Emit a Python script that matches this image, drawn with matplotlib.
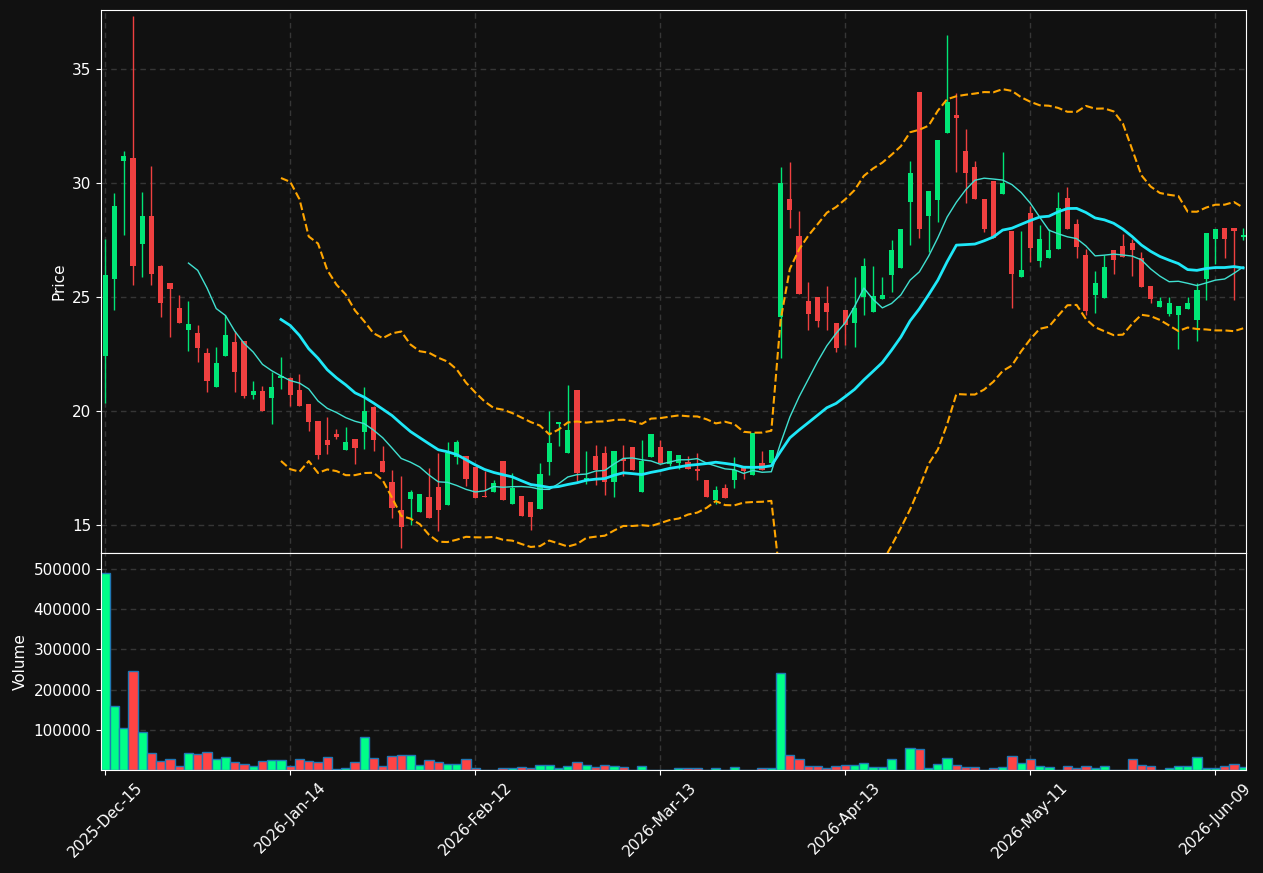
import numpy as np
import pandas as pd
import matplotlib
matplotlib.use("Agg")
import matplotlib.pyplot as plt
from matplotlib.ticker import MultipleLocator, ScalarFormatter

# OHLCV, one bar per trading day
opens = [22.41, 25.82, 31.0, 31.11, 27.36, 28.57, 26.37, 25.64, 24.54, 23.58,
         23.45, 22.56, 21.08, 22.45, 23.05, 23.1, 20.73, 20.9, 20.61, 21.48,
         21.45, 20.95, 20.32, 19.59, 18.75, 19.01, 18.32, 18.8, 19.09, 20.2,
         17.82, 16.91, 15.7, 16.16, 15.58, 16.25, 16.69, 15.91, 18.02, 18.05,
         17.55, 16.31, 16.48, 17.82, 15.96, 16.3, 16.02, 15.73, 17.79, 19.47,
         18.16, 20.95, 17.0, 18.05, 18.17, 16.92, 17.91, 18.43, 16.48, 18.02,
         18.44, 17.71, 17.74, 17.79, 17.47, 17.0, 16.11, 16.65, 17.0, 17.52,
         17.23, 17.74, 17.74, 24.12, 29.31, 27.7, 24.85, 25.0, 24.76, 23.87,
         24.45, 23.86, 25.03, 24.38, 24.91, 25.99, 26.3, 29.19, 34.01, 28.58,
         29.27, 32.23, 33.0, 31.42, 30.72, 29.31, 30.11, 29.53, 27.91, 25.91,
         28.7, 26.6, 26.74, 27.12, 29.36, 28.22, 26.86, 25.11, 24.98, 27.09,
         27.24, 27.39, 26.72, 25.49, 24.6, 24.27, 24.24, 24.5, 23.99, 25.79,
         27.55, 28.03, 28.05, 27.67]
highs = [27.55, 29.56, 31.4, 37.33, 29.6, 30.75, 26.4, 25.64, 25.09, 24.83,
         23.78, 22.79, 22.82, 24.22, 23.51, 23.1, 21.33, 21.1, 21.75, 22.39,
         21.5, 21.63, 20.32, 19.59, 19.74, 19.25, 19.31, 18.8, 21.07, 20.25,
         18.48, 17.45, 17.18, 16.55, 16.39, 17.53, 18.2, 18.67, 18.77, 18.05,
         17.55, 17.41, 17.0, 17.82, 17.3, 16.3, 16.02, 17.74, 20.0, 19.55,
         21.14, 20.95, 18.25, 18.52, 18.48, 18.25, 18.52, 18.43, 18.73, 19.01,
         18.73, 18.25, 18.09, 18.05, 18.17, 17.0, 16.75, 16.8, 17.99, 17.52,
         19.04, 18.25, 18.32, 30.7, 30.93, 28.8, 25.67, 25.0, 25.52, 23.87,
         24.45, 25.91, 26.75, 26.36, 25.91, 27.52, 28.0, 31.0, 34.01, 29.66,
         31.91, 36.49, 33.95, 32.38, 30.98, 29.31, 30.11, 31.36, 27.91, 27.91,
         28.99, 28.16, 28.0, 29.6, 29.83, 28.43, 27.12, 26.14, 26.86, 27.09,
         27.76, 27.55, 26.98, 25.49, 25.0, 25.0, 24.62, 25.03, 25.64, 27.82,
         28.0, 28.03, 28.05, 28.03]
lows = [20.38, 24.44, 27.73, 25.53, 25.88, 25.56, 24.16, 23.25, 23.86, 22.67,
        22.18, 20.84, 21.08, 22.45, 20.84, 20.58, 20.53, 20.0, 19.47, 20.99,
        20.26, 20.26, 19.13, 17.9, 18.13, 18.78, 18.32, 17.68, 18.37, 18.28,
        17.36, 15.35, 14.01, 15.02, 15.58, 15.32, 14.74, 15.91, 17.71, 16.72,
        16.2, 16.26, 16.48, 16.11, 15.96, 15.41, 14.79, 15.73, 17.21, 18.48,
        18.16, 16.95, 16.84, 16.77, 16.34, 16.27, 17.18, 17.45, 16.48, 18.02,
        17.74, 17.61, 17.48, 17.48, 17.0, 16.27, 15.96, 16.22, 16.65, 17.06,
        17.23, 17.45, 17.74, 22.33, 28.06, 25.15, 23.58, 23.7, 23.58, 22.59,
        22.9, 22.82, 24.24, 24.38, 24.91, 25.23, 26.3, 27.32, 27.62, 26.98,
        28.31, 32.23, 30.49, 29.13, 29.33, 27.85, 27.62, 29.53, 24.53, 25.91,
        26.55, 26.33, 26.74, 27.12, 28.0, 26.75, 24.22, 24.3, 24.98, 26.02,
        26.78, 25.93, 25.44, 24.76, 24.57, 24.19, 22.74, 24.5, 23.08, 24.88,
        26.48, 26.75, 24.88, 27.52]
closes = [25.99, 29.01, 31.2, 26.39, 28.57, 26.04, 24.77, 25.38, 23.86, 23.84,
          22.8, 21.34, 22.12, 23.35, 21.75, 20.69, 20.9, 20.0, 21.07, 21.57,
          20.73, 20.26, 19.54, 18.09, 18.51, 18.86, 18.66, 18.41, 20.02, 18.75,
          17.36, 15.78, 14.94, 16.46, 16.39, 15.35, 15.69, 18.17, 18.64, 17.06,
          16.22, 16.27, 16.86, 16.11, 16.65, 15.41, 15.38, 17.26, 18.61, 19.53,
          19.19, 17.3, 17.1, 17.44, 16.92, 18.25, 17.82, 17.45, 17.82, 19.01,
          17.74, 18.25, 18.09, 17.48, 17.41, 16.27, 16.54, 16.22, 17.45, 17.38,
          19.04, 17.45, 18.32, 30.02, 28.84, 25.15, 24.27, 23.96, 24.38, 22.79,
          23.8, 24.54, 26.36, 25.06, 25.11, 27.09, 28.0, 30.46, 28.0, 29.66,
          31.91, 33.57, 32.88, 30.47, 29.33, 28.0, 27.62, 30.02, 26.02, 26.2,
          27.16, 27.55, 27.09, 28.92, 28.0, 27.21, 24.42, 25.64, 26.34, 26.66,
          26.78, 27.06, 25.44, 24.95, 24.83, 24.76, 24.62, 24.76, 25.34, 27.82,
          28.0, 27.55, 27.93, 27.73]
volumes = [489000, 159600, 105000, 246600, 95000, 42900, 22100, 28000, 10600, 42900,
           40300, 45300, 28000, 32900, 20500, 15500, 10600, 23000, 25500, 25500,
           10600, 28000, 23000, 20500, 32900, 3000, 5500, 20500, 82600, 30400,
           10600, 35400, 37900, 37900, 13100, 25500, 20500, 15500, 15500, 28000,
           5500, 1000, 1000, 5500, 5500, 8000, 5500, 13100, 13100, 5500,
           10600, 20500, 13100, 8000, 13100, 10600, 8000, 1000, 10600, 1000,
           1000, 1000, 5500, 5500, 5500, 1000, 5500, 1000, 8000, 1000,
           1000, 5500, 5500, 241600, 37900, 28000, 10600, 10600, 5500, 10600,
           13100, 13100, 18000, 8000, 8000, 28000, 1000, 55000, 52600, 5500,
           15500, 30400, 13100, 8000, 8000, 1000, 5500, 8000, 35400, 18000,
           28000, 10600, 8000, 1000, 10600, 5500, 10600, 5500, 10600, 1000,
           1000, 28000, 13100, 10600, 1000, 5500, 10600, 10600, 33000, 5500,
           5500, 10600, 15500, 8000]
tick_labels = ["2025-Dec-15", "2026-Jan-14", "2026-Feb-12", "2026-Mar-13",
               "2026-Apr-13", "2026-May-11", "2026-Jun-09"]

df = pd.DataFrame({"open": opens, "high": highs, "low": lows,
                   "close": closes, "volume": volumes})
df["ma10"] = df["close"].rolling(10).mean()
df["ma20"] = df["close"].rolling(20).mean()
std20 = df["close"].rolling(20).std()
df["upper"] = df["ma20"] + 2 * std20
df["lower"] = df["ma20"] - 2 * std20

x = np.arange(len(df))
rising = df["close"] >= df["open"]

bg = "#111111"
grid_kw = dict(color="#363636", linestyle=(0, (4, 3)), linewidth=1.0)

fig, (ax, axv) = plt.subplots(2, 1, figsize=(12.63, 8.73), dpi=100, sharex=True,
                              gridspec_kw={"height_ratios": [2.5, 1], "hspace": 0})
fig.patch.set_facecolor(bg)
fig.subplots_adjust(left=0.08, right=0.9865, top=0.9885, bottom=0.118)

# candles
candle_col = np.where(rising, "#00e676", "#f04040")
ax.vlines(x, df["low"], df["high"], colors=candle_col, linewidth=1, zorder=3)
body_bottom = np.minimum(df["open"], df["close"])
body_height = (df["close"] - df["open"]).abs()
ax.bar(x, body_height, bottom=body_bottom, width=0.56, color=candle_col, zorder=4)

# indicators
ax.plot(x, df["ma10"], color="#40e0d0", linewidth=1, zorder=5)
ax.plot(x, df["ma20"], color="#1ee8f8", linewidth=2, zorder=5)
ax.plot(x, df["upper"], color="orange", linestyle="--", linewidth=1.5, zorder=5)
ax.plot(x, df["lower"], color="orange", linestyle="--", linewidth=1.5, zorder=5)

ax.set_ylim(13.8, 37.6)
ax.yaxis.set_major_locator(MultipleLocator(5))
ax.set_ylabel("Price", color="white", fontsize=11)

# volume
vol_col = np.where(rising, "#00ff88", "#ff4444")
axv.bar(x, df["volume"], width=1.0, color=vol_col, edgecolor="#1f77b4", linewidth=1)
axv.set_ylim(0, df["volume"].max() * 1.105)
axv.set_yticks([100000, 200000, 300000, 400000, 500000])
fmt = ScalarFormatter(useOffset=False)
fmt.set_scientific(False)
axv.yaxis.set_major_formatter(fmt)
axv.set_ylabel("Volume", color="white", fontsize=11)

axv.set_xlim(-0.45, 123.3)
axv.set_xticks(x[::20])
axv.set_xticklabels(tick_labels, rotation=45)

for a in (ax, axv):
    a.set_facecolor(bg)
    a.grid(True, **grid_kw)
    a.set_axisbelow(True)
    a.tick_params(colors="white", labelsize=11)
    for s in a.spines.values():
        s.set_color("white")
ax.tick_params(axis="x", length=0)

fig.savefig("out.png", dpi=100, facecolor=bg)
